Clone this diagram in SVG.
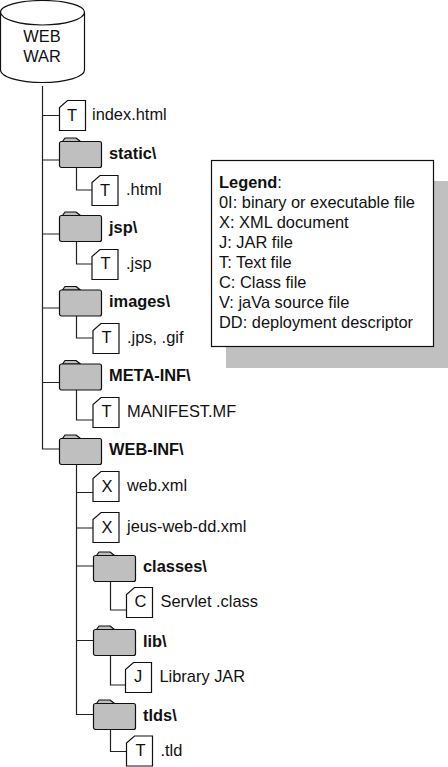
<svg xmlns="http://www.w3.org/2000/svg" xmlns:xlink="http://www.w3.org/1999/xlink" width="448" height="767" viewBox="0 0 448 767">
<style>
text{font-family:"Liberation Sans",Arial,sans-serif;fill:#111;font-size:16.400px}
.b{font-weight:bold}
.g{font-size:16.500px;text-anchor:middle}
.w{text-anchor:middle}
.c{fill:none;stroke:#222;stroke-width:1.2}
.d{fill:#fff;stroke:#111;stroke-width:1.2}
.f{fill:#bfbfbf;stroke:#111;stroke-width:1.2;stroke-linejoin:round}
</style>
<defs>
<path id="doc" class="d" d="M7.500 0.500H25.500V30.500H-0.500V7.500Z"/>
<g id="folder"><path class="f" d="M3.500 4.500L6 1H17L21.500 4.500Z"/><rect class="f" x="0.500" y="4.500" width="42" height="26" rx="2"/></g>
</defs>
<g id="connectors" class="c">
<path d="M42.500 86V449H59"/>
<path d="M42.500 115.500H59M42.500 160H59M42.500 234H59M42.500 308H59M42.500 382.500H59"/>
<path d="M76.500 167V190H92M76.500 241V264H92M76.500 316V338H93M76.500 390V420H93"/>
<path d="M76.500 464V714.500H93M76.500 492.500H93M76.500 528H93M76.500 566H93M76.500 640.500H93"/>
<path d="M110.500 581V610H126M110.500 655V685H126M110.500 729V751.500H126"/>
</g>
<g id="war"><path d="M0.500 12V70A42 12.500 0 0 0 84.500 70V12A42 11.500 0 0 0 0.500 12A42 13 0 0 0 84.500 12" fill="#fff" stroke="#111" stroke-width="1.200"/><text class="w" x="42" y="42">WEB</text><text class="w" x="42" y="62">WAR</text></g>
<g id="n-index"><use xlink:href="#doc" x="60" y="100"/><text class="g" x="72" y="121">T</text><text x="92" y="120">index.html</text></g>
<g id="n-static"><use xlink:href="#folder" x="59" y="137"/><text class="b" x="109" y="159">static\</text></g>
<g id="n-static-html"><use xlink:href="#doc" x="92.500" y="175"/><text class="g" x="105" y="196">T</text><text x="126" y="195">.html</text></g>
<g id="n-jsp"><use xlink:href="#folder" x="59" y="211"/><text class="b" x="109" y="233">jsp\</text></g>
<g id="n-jsp-file"><use xlink:href="#doc" x="92.500" y="249"/><text class="g" x="105.500" y="269">T</text><text x="126" y="269">.jsp</text></g>
<g id="n-images"><use xlink:href="#folder" x="59" y="285.500"/><text class="b" x="109" y="307">images\</text></g>
<g id="n-images-file"><use xlink:href="#doc" x="93.500" y="323"/><text class="g" x="106.500" y="343">T</text><text x="127" y="343">.jps, .gif</text></g>
<g id="n-meta"><use xlink:href="#folder" x="59" y="359.500"/><text class="b" x="109" y="381">META-INF\</text></g>
<g id="n-manifest"><use xlink:href="#doc" x="93.500" y="397"/><text class="g" x="106.500" y="417">T</text><text x="127" y="417">MANIFEST.MF</text></g>
<g id="n-webinf"><use xlink:href="#folder" x="59" y="434"/><text class="b" x="109" y="455">WEB-INF\</text></g>
<g id="n-webxml"><use xlink:href="#doc" x="93.500" y="471"/><text class="g" x="107" y="492">X</text><text x="127" y="491">web.xml</text></g>
<g id="n-jeus"><use xlink:href="#doc" x="93.500" y="512"/><text class="g" x="107" y="533">X</text><text x="127" y="532">jeus-web-dd.xml</text></g>
<g id="n-classes"><use xlink:href="#folder" x="93" y="551"/><text class="b" x="143" y="572">classes\</text></g>
<g id="n-servlet"><use xlink:href="#doc" x="127" y="587"/><text class="g" x="140.500" y="607">C</text><text x="160.500" y="607">Servlet .class</text></g>
<g id="n-lib"><use xlink:href="#folder" x="93" y="625"/><text class="b" x="143" y="647">lib\</text></g>
<g id="n-jar"><use xlink:href="#doc" x="126" y="662"/><text class="g" x="138" y="682">J</text><text x="159.500" y="682">Library JAR</text></g>
<g id="n-tlds"><use xlink:href="#folder" x="93" y="699"/><text class="b" x="143" y="721">tlds\</text></g>
<g id="n-tld"><use xlink:href="#doc" x="127" y="735.500"/><text class="g" x="140.500" y="756">T</text><text x="160.500" y="756">.tld</text></g>
<g id="legend">
<rect x="226" y="181" width="222" height="187" fill="#c0c0c0"/>
<rect x="211.500" y="160.500" width="222" height="186" fill="#fff" stroke="#111" stroke-width="1.200"/>
<text x="219" y="188"><tspan class="b">Legend</tspan>:</text>
<text x="219" y="208">0I: binary or executable file</text>
<text x="219" y="228">X: XML document</text>
<text x="219" y="248">J: JAR file</text>
<text x="219" y="268">T: Text file</text>
<text x="219" y="288">C: Class file</text>
<text x="219" y="308">V: jaVa source file</text>
<text x="219" y="328">DD: deployment descriptor</text>
</g>
</svg>
